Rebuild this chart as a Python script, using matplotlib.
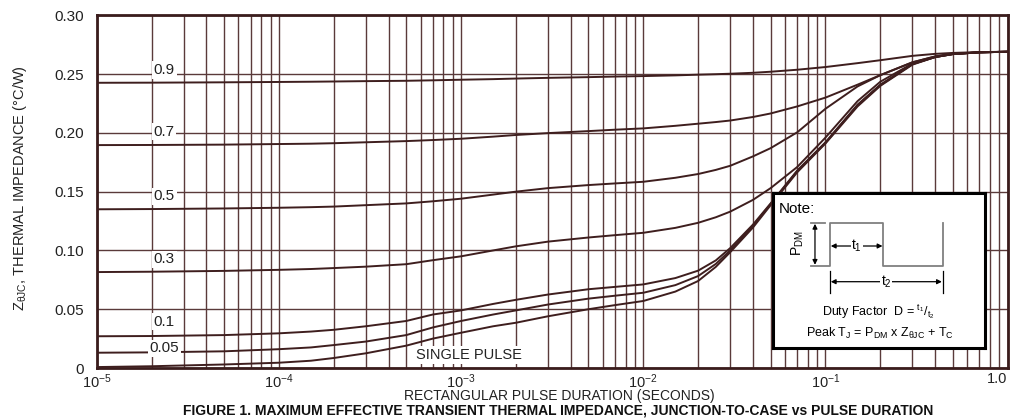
import matplotlib
matplotlib.use("Agg")
from matplotlib import pyplot as plt
from matplotlib.ticker import LogLocator, NullFormatter

plt.rcParams["font.family"] = ["Liberation Sans", "DejaVu Sans"]
plt.rcParams["mathtext.fontset"] = "custom"
plt.rcParams["mathtext.rm"] = "Liberation Sans"
plt.rcParams["mathtext.it"] = "Liberation Sans"
plt.rcParams["mathtext.default"] = "regular"

# pulse duration (s) and Z_thetaJC (C/W)
pulse_time = [1e-5, 2e-5, 5e-5, 1e-4, 1.5e-4, 2e-4, 3e-4, 5e-4, 7e-4, 1e-3,
              1.5e-3, 2e-3, 3e-3, 5e-3, 7e-3, 1e-2, 1.5e-2, 2e-2, 2.5e-2, 3e-2,
              4e-2, 5e-2, 7e-2, 0.1, 0.15, 0.2, 0.3, 0.4, 0.5, 0.7, 1.0]

z_d09 = [0.2426, 0.2427, 0.2430, 0.2433, 0.2435, 0.2437, 0.2440, 0.2443, 0.2447, 0.2452,
         0.2457, 0.2462, 0.2468, 0.2474, 0.2479, 0.2483, 0.2489, 0.2495, 0.2499, 0.2503,
         0.2511, 0.2520, 0.2537, 0.2560, 0.2593, 0.2618, 0.2655, 0.2672, 0.2680, 0.2687,
         0.2690]
z_d07 = [0.1896, 0.1897, 0.1900, 0.1905, 0.1908, 0.1912, 0.1920, 0.1930, 0.1939, 0.1950,
         0.1968, 0.1982, 0.1998, 0.2015, 0.2027, 0.2038, 0.2060, 0.2078, 0.2092, 0.2105,
         0.2135, 0.2165, 0.2225, 0.2300, 0.2410, 0.2491, 0.2600, 0.2650, 0.2672, 0.2685,
         0.2690]
z_d05 = [0.1350, 0.1352, 0.1357, 0.1363, 0.1368, 0.1373, 0.1385, 0.1400, 0.1418, 0.1440,
         0.1475, 0.1500, 0.1530, 0.1556, 0.1570, 0.1584, 0.1618, 0.1650, 0.1685, 0.1720,
         0.1800, 0.1870, 0.2005, 0.2205, 0.2395, 0.2491, 0.2600, 0.2650, 0.2672, 0.2685,
         0.2690]
z_d03 = [0.0816, 0.0819, 0.0826, 0.0835, 0.0842, 0.0850, 0.0862, 0.0883, 0.0917, 0.0950,
         0.1000, 0.1035, 0.1075, 0.1110, 0.1130, 0.1150, 0.1192, 0.1235, 0.1282, 0.1330,
         0.1430, 0.1530, 0.1710, 0.1960, 0.2270, 0.2435, 0.2590, 0.2645, 0.2670, 0.2685,
         0.2690]
z_d01 = [0.0270, 0.0272, 0.0280, 0.0295, 0.0310, 0.0325, 0.0355, 0.0400, 0.0455, 0.0490,
         0.0545, 0.0580, 0.0625, 0.0670, 0.0690, 0.0711, 0.0765, 0.0828, 0.0915, 0.1020,
         0.1220, 0.1400, 0.1680, 0.1920, 0.2240, 0.2410, 0.2585, 0.2645, 0.2670, 0.2685,
         0.2690]
z_d005 = [0.0130, 0.0133, 0.0142, 0.0160, 0.0175, 0.0195, 0.0225, 0.0280, 0.0345, 0.0400,
          0.0455, 0.0490, 0.0540, 0.0590, 0.0615, 0.0640, 0.0705, 0.0782, 0.0885, 0.1000,
          0.1210, 0.1395, 0.1675, 0.1915, 0.2235, 0.2405, 0.2585, 0.2645, 0.2670, 0.2685,
          0.2690]
z_single = [0.0008, 0.0015, 0.0030, 0.0045, 0.0062, 0.0085, 0.0125, 0.0190, 0.0250, 0.0300,
            0.0355, 0.0385, 0.0440, 0.0500, 0.0535, 0.0570, 0.0650, 0.0740, 0.0860, 0.0985,
            0.1195, 0.1385, 0.1665, 0.1910, 0.2225, 0.2400, 0.2580, 0.2645, 0.2670, 0.2685,
            0.2690]

curves = [z_d09, z_d07, z_d05, z_d03, z_d01, z_d005, z_single]
duty_labels = ["0.9", "0.7", "0.5", "0.3", "0.1", "0.05"]
label_y = [0.2534, 0.2010, 0.1460, 0.0924, 0.0394, 0.0167]

x_ticks = [1e-5, 1e-4, 1e-3, 1e-2, 1e-1, 1.0]
x_tick_labels = [r"$10^{-5}$", r"$10^{-4}$", r"$10^{-3}$", r"$10^{-2}$", r"$10^{-1}$", "1.0"]
y_ticks = [0, 0.05, 0.10, 0.15, 0.20, 0.25, 0.30]
y_tick_labels = ["0", "0.05", "0.10", "0.15", "0.20", "0.25", "0.30"]

grid_col = "#5a3a3a"
line_col = "#3e1e1e"
frame_col = "#3a1c1c"

fig = plt.figure(figsize=(10.10, 4.18), dpi=100)
ax = fig.add_axes([0.0957, 0.1196, 0.902, 0.8438])

for z in curves:
    ax.plot(pulse_time, z, color=line_col, lw=1.4, zorder=3)

ax.set_xscale("log")
ax.set_xlim(1e-5, 1.0)
ax.set_ylim(0, 0.30)
ax.xaxis.set_minor_locator(LogLocator(base=10, subs=range(2, 10), numticks=100))
ax.xaxis.set_minor_formatter(NullFormatter())
ax.set_xticks(x_ticks)
ax.set_xticklabels(x_tick_labels)
ax.set_yticks(y_ticks)
ax.set_yticklabels(y_tick_labels)
ax.tick_params(which="both", length=0, colors="#222222")
ax.tick_params(axis="x", pad=3, labelsize=10.5)
ax.tick_params(axis="y", pad=9, labelsize=11)
ax.get_xticklabels()[-1].set_horizontalalignment("right")
ax.set_axisbelow(True)
ax.grid(True, which="both", axis="x", color=grid_col, lw=1.0)
ax.grid(True, which="major", axis="y", color=grid_col, lw=1.0)
for s in ax.spines.values():
    s.set_linewidth(2.0)
    s.set_color(frame_col)

# duty factor labels sitting on the grid
box = dict(facecolor="white", edgecolor="none", pad=1.2)
for lab, yv in zip(duty_labels, label_y):
    ax.text(2.35e-5, yv, lab, ha="center", va="center", fontsize=11,
            color="#222222", bbox=box, zorder=4)
ax.text(1.1e-3, 0.011, "SINGLE PULSE", ha="center", va="center", fontsize=10.5,
        color="#222222", bbox=box, zorder=4)

# note box with the pulse sketch
note = ax.inset_axes([0.7427, 0.0559, 0.2324, 0.4394])
note.set_zorder(6)
note.set_xlim(0, 211.7)
note.set_ylim(155, 0)
note.set_xticks([])
note.set_yticks([])
for s in note.spines.values():
    s.set_linewidth(2.2)
    s.set_color("black")

wave_col = "#808080"
note.plot([37.3, 56.7, 56.7, 110, 110, 169.4, 169.4],
          [72.7, 72.7, 29.4, 29.4, 72.7, 72.7, 29.4], color=wave_col, lw=1.3)
note.plot([37.3, 52], [29.4, 29.4], color=wave_col, lw=1.3)
arr = dict(arrowstyle="<|-|>", color="black", lw=0.9, shrinkA=0, shrinkB=0,
           mutation_scale=7)
note.annotate("", xy=(41.7, 30.5), xytext=(41.7, 71.5), arrowprops=arr)
note.annotate("", xy=(57.5, 52.7), xytext=(109.2, 52.7), arrowprops=arr)
note.annotate("", xy=(57.5, 88.4), xytext=(168.6, 88.4), arrowprops=arr)
note.plot([56.7, 56.7], [78, 100], color="black", lw=0.9)
note.plot([169.4, 169.4], [78, 100], color="black", lw=0.9)
wbox = dict(facecolor="white", edgecolor="none", pad=0.5)
note.text(83.4, 52.7, r"t$_1$", ha="center", va="center", fontsize=10, bbox=wbox)
note.text(113, 88.4, r"t$_2$", ha="center", va="center", fontsize=10, bbox=wbox)
note.text(5.7, 15.7, "Note:", ha="left", va="center", fontsize=11)
note.text(24.7, 50, r"P$_{DM}$", ha="center", va="center", fontsize=10, rotation=90)
note.text(104.7, 118.4, r"Duty Factor  D = $^{t_1}/_{t_2}$", ha="center",
          va="center", fontsize=9)
note.text(106.5, 139.7, r"Peak T$_J$ = P$_{DM}$ x Z$_{\theta JC}$ + T$_C$",
          ha="center", va="center", fontsize=9)

fig.text(0.02, 0.551, r"Z$_{\theta JC}$, THERMAL IMPEDANCE (°C/W)", rotation=90,
         ha="center", va="center", fontsize=10.5, color="#222222")
fig.text(0.554, 0.052, "RECTANGULAR PULSE DURATION (SECONDS)", ha="center",
         va="center", fontsize=10, color="#222222")
fig.text(0.553, 0.019,
         "FIGURE 1. MAXIMUM EFFECTIVE TRANSIENT THERMAL IMPEDANCE, JUNCTION-TO-CASE vs PULSE DURATION",
         ha="center", va="center", fontsize=10, fontweight="bold", color="#111111")

plt.savefig("out.png", dpi=100)
